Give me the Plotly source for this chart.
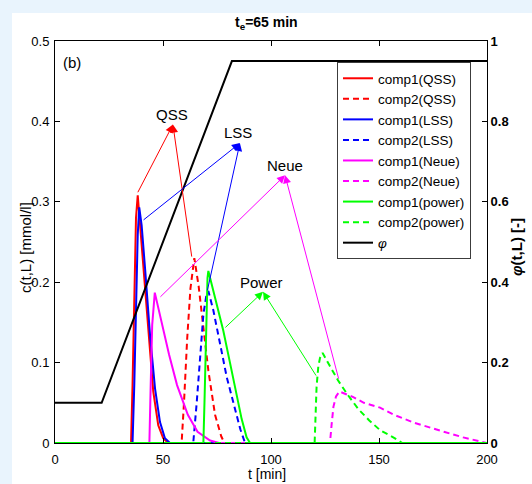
import plotly.graph_objects as go

# ---------------- data ----------------
t_qss1 = [0, 35.2, 35.9, 36.7, 37.5, 38.3, 39.4, 40.9, 43.2, 45.5, 47.8, 50.1, 52.4, 200]
c_qss1 = [0, 0, 0.072, 0.197, 0.280, 0.308, 0.271, 0.217, 0.134, 0.064, 0.022, 0.006, 0, 0]

t_qss2 = [0, 58.6, 59.7, 61.2, 62.7, 64.5, 66.5, 68.7, 71.0, 74.1, 77.0, 78.5, 200]
c_qss2 = [0, 0, 0.049, 0.130, 0.192, 0.230, 0.195, 0.140, 0.090, 0.035, 0.008, 0, 0]

t_lss1 = [0, 35.9, 36.7, 37.5, 38.3, 39.0, 40.1, 41.7, 44.0, 46.3, 48.6, 50.9, 53.2, 200]
c_lss1 = [0, 0, 0.072, 0.176, 0.259, 0.293, 0.271, 0.217, 0.134, 0.068, 0.026, 0.006, 0, 0]

t_lss2 = [0, 64.0, 65.6, 67.1, 68.7, 70.2, 71.0, 73.3, 74.8, 77.2, 79.5, 82.5, 85.8, 88.0, 200]
c_lss2 = [0, 0, 0.050, 0.110, 0.160, 0.186, 0.189, 0.165, 0.143, 0.113, 0.082, 0.050, 0.017, 0, 0]

t_neue1 = [0, 43.7, 44.3, 45.0, 46.2, 47.5, 49.7, 52.8, 56.5, 61.5, 66.0, 71.8, 76.0, 200]
c_neue1 = [0, 0, 0.072, 0.147, 0.187, 0.172, 0.145, 0.110, 0.072, 0.035, 0.014, 0.003, 0, 0]

t_neue2 = [0, 127.3, 128.1, 128.9, 130.1, 131.7, 134.5, 138.1, 143.0, 150.5, 157.0, 166.5, 180.0, 189.0, 196.8, 200]
c_neue2 = [0, 0, 0.024, 0.045, 0.058, 0.064, 0.061, 0.057, 0.050, 0.044, 0.035, 0.025, 0.014, 0.007, 0.002, 0]

t_pow1 = [0, 68.7, 69.2, 69.9, 70.6, 71.0, 73.3, 75.6, 77.9, 81.0, 84.1, 86.4, 88.7, 90.3, 200]
c_pow1 = [0, 0, 0.050, 0.150, 0.205, 0.214, 0.190, 0.165, 0.140, 0.100, 0.062, 0.030, 0.007, 0, 0]

t_pow2 = [0, 120.2, 121.1, 121.9, 122.7, 123.9, 127.0, 131.0, 135.5, 140.5, 145.5, 150.5, 156.6, 160.8, 200]
c_pow2 = [0, 0, 0.070, 0.095, 0.106, 0.112, 0.097, 0.078, 0.060, 0.042, 0.028, 0.016, 0.007, 0, 0]

t_phi = [0, 21.6, 81.9, 200]
phi = [0.1, 0.1, 0.95, 0.95]

# annotation labels: text centre, arrow head, two tails (data coords)
labels = ["QSS", "LSS", "Neue", "Power"]
label_colors = ["#ff0000", "#0000ff", "#ff00ff", "#00ff00"]
label_text_xy = [(54.2, 0.408), (84.7, 0.386), (106.5, 0.345), (95.8, 0.200)]
label_head_xy = [(54.6, 0.396), (85.6, 0.373), (106.5, 0.333), (96.3, 0.188)]
label_tails = [[(38.0, 0.310), (63.4, 0.230)],
               [(40.3, 0.276), (70.4, 0.188)],
               [(48.1, 0.180), (131.5, 0.078)],
               [(78.2, 0.142), (121.3, 0.082)]]

x_ticks = [0, 50, 100, 150, 200]
y_ticks = [0, 0.1, 0.2, 0.3, 0.4, 0.5]
y_ticktext = ["0", "0.1", "0.2", "0.3", "0.4", "0.5"]
y2_ticks = [0, 0.2, 0.4, 0.6, 0.8, 1]
y2_ticktext = ["0", "0.2", "0.4", "0.6", "0.8", "1"]

FONT = "Liberation Sans, Arial, Helvetica, sans-serif"
DASH = "6px,4px"

fig = go.Figure()

series = [
    ("comp1(QSS)", t_qss1, c_qss1, "#ff0000", "solid"),
    ("comp2(QSS)", t_qss2, c_qss2, "#ff0000", DASH),
    ("comp1(LSS)", t_lss1, c_lss1, "#0000ff", "solid"),
    ("comp2(LSS)", t_lss2, c_lss2, "#0000ff", DASH),
    ("comp1(Neue)", t_neue1, c_neue1, "#ff00ff", "solid"),
    ("comp2(Neue)", t_neue2, c_neue2, "#ff00ff", DASH),
    ("comp1(power)", t_pow1, c_pow1, "#00ff00", "solid"),
    ("comp2(power)", t_pow2, c_pow2, "#00ff00", DASH),
]
for name, tx, cy, col, dash in series:
    fig.add_trace(go.Scatter(x=tx, y=cy, mode="lines", name=name,
                             line=dict(color=col, width=2, dash=dash)))

fig.add_trace(go.Scatter(x=t_phi, y=phi, mode="lines", name="<i>φ</i>",
                         yaxis="y2", line=dict(color="black", width=2)))

annotations = []
for lab, col, txy, hxy, tails in zip(labels, label_colors, label_text_xy,
                                      label_head_xy, label_tails):
    annotations.append(dict(x=txy[0], y=txy[1], xref="x", yref="y", text=lab,
                            showarrow=False, font=dict(family=FONT, size=15, color="black"),
                            xanchor="center", yanchor="middle"))
    for tl in tails:
        annotations.append(dict(x=hxy[0], y=hxy[1], xref="x", yref="y",
                                ax=tl[0], ay=tl[1], axref="x", ayref="y",
                                text="", showarrow=True, arrowhead=2,
                                arrowsize=1.6, arrowwidth=1, arrowcolor=col,
                                standoff=0, startstandoff=0))

# panel tag, title, axis titles
W, H = 532, 484
L, R, T, B = 55, 487, 41, 443
def px(x):
    return (x - L) / (R - L)
def py(y):
    return (B - y) / (B - T)

annotations += [
    dict(x=px(72), y=py(62), xref="paper", yref="paper", text="(b)", showarrow=False,
         xanchor="center", yanchor="middle",
         font=dict(family=FONT, size=15, color="black")),
    dict(x=px(266), y=py(23), xref="paper", yref="paper",
         text="<b>t<sub>e</sub>=65 min</b>", showarrow=False,
         xanchor="center", yanchor="middle",
         font=dict(family=FONT, size=14, color="black")),
    dict(x=px(25), y=py(248), xref="paper", yref="paper", text="c(t,L) [mmol/l]",
         textangle=-90, showarrow=False, xanchor="center", yanchor="middle",
         font=dict(family=FONT, size=15, color="black")),
    dict(x=px(516), y=py(247), xref="paper", yref="paper", text="<b><i>φ</i>(t,L) [-]</b>",
         textangle=-90, showarrow=False, xanchor="center", yanchor="middle",
         font=dict(family=FONT, size=15, color="black")),
    dict(x=px(267), y=py(474), xref="paper", yref="paper", text="t [min]",
         showarrow=False, xanchor="center", yanchor="middle",
         font=dict(family=FONT, size=14, color="black")),
]

shapes = [
    dict(type="rect", xref="paper", yref="paper", x0=px(-5), x1=px(12), y0=py(490), y1=py(-5),
         fillcolor="#e9f4fd", line=dict(width=0), layer="below"),
    dict(type="rect", xref="paper", yref="paper", x0=px(-5), x1=px(540), y0=py(13), y1=py(-5),
         fillcolor="#e9f4fd", line=dict(width=0), layer="below"),
]

def axis_common(bold=False):
    return dict(showgrid=False, zeroline=False, showline=True, linecolor="black",
                linewidth=1, ticks="inside", ticklen=5, tickcolor="black",
                tickfont=dict(family=FONT, size=13, color="black",
                              weight="bold" if bold else "normal"))

fig.update_layout(
    width=W, height=H,
    margin=dict(l=L, r=W - R, t=T, b=H - B, pad=0),
    paper_bgcolor="white", plot_bgcolor="white",
    showlegend=True,
    legend=dict(x=px(337), y=py(62), xanchor="left", yanchor="top",
                bgcolor="white", bordercolor="#3c3c3c", borderwidth=1,
                font=dict(family=FONT, size=13.5, color="black"),
                tracegroupgap=0),
    xaxis=dict(range=[0, 200], tickvals=x_ticks, mirror="ticks",
               ticklabelstandoff=4, **axis_common()),
    yaxis=dict(range=[0, 0.5], tickvals=y_ticks, ticktext=y_ticktext,
               ticklabelstandoff=2, **axis_common()),
    yaxis2=dict(range=[0, 1], tickvals=y2_ticks, ticktext=y2_ticktext,
                overlaying="y", side="right", **axis_common(bold=True)),
    annotations=annotations,
    shapes=shapes,
)

fig.write_html("out.html")
